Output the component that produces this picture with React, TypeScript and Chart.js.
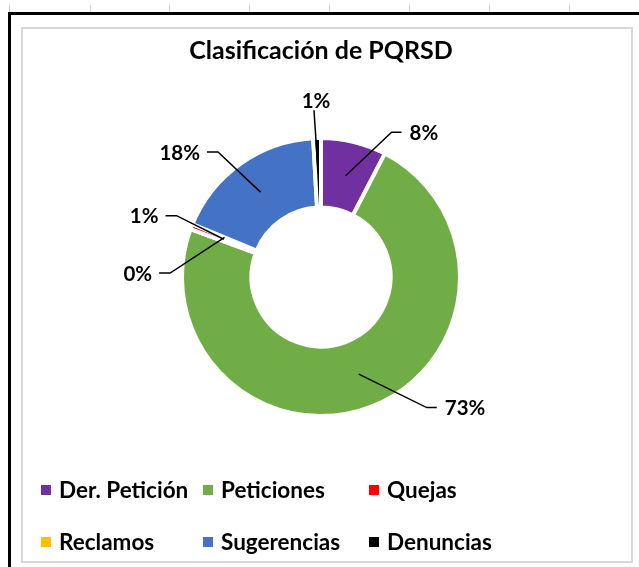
import React, { useEffect, useRef } from "react";
import { Chart, registerables } from "chart.js";

Chart.register(...registerables);

// ---- data ----
const categories = ["Der. Petición", "Peticiones", "Quejas", "Reclamos", "Sugerencias", "Denuncias"];
const shares = [7.6, 73.0, 0.6, 0.0, 17.9, 0.9];
const colors = ["#7030A0", "#70AD47", "#FF0000", "#FFC000", "#4472C4", "#000000"];
const titleText = "Clasificación de PQRSD";

// ---- label placement (style): elbow angle (deg clockwise from top), distance (x outer radius), side ----
const labelAngles = [26, 141, 293, 271.5, 320.5, 357.6];
const labelDistances = [1.158, 1.209, 1.129, 1.086, 1.165, 1.201];
const labelSides = ["right", "right", "left", "left", "left", "top"];

// ---- layout (style) ----
const FONT = "Lato, 'Noto Sans', sans-serif";
const gridTickX = [9, 90, 169, 249, 329, 409, 489, 569];
const legendColsX = [41, 203, 369];
const legendRowsY = [490, 542];

const decorPlugin = {
  id: "pqrsdDecor",
  beforeDraw(chart: any) {
    const ctx = chart.ctx as CanvasRenderingContext2D;
    const W = chart.width;
    const H = chart.height;
    ctx.save();
    ctx.fillStyle = "#ffffff";
    ctx.fillRect(0, 0, W, H);
    ctx.strokeStyle = "#d0d0d0";
    ctx.lineWidth = 1;
    for (const x of gridTickX) {
      ctx.beginPath();
      ctx.moveTo(x + 0.5, 5);
      ctx.lineTo(x + 0.5, 12);
      ctx.stroke();
    }
    ctx.fillStyle = "#000000";
    ctx.fillRect(8, 12, W - 8, 3);
    ctx.fillRect(8, 12, 3, H - 12);
    ctx.strokeStyle = "#d9d9d9";
    ctx.lineWidth = 2;
    ctx.strokeRect(22, 28, 610, 534);
    // title
    ctx.fillStyle = "#000000";
    ctx.font = `bold 25px ${FONT}`;
    ctx.textAlign = "center";
    ctx.textBaseline = "alphabetic";
    ctx.fillText(titleText, 321, 59);
    ctx.restore();
  },
  afterDatasetsDraw(chart: any) {
    const ctx = chart.ctx as CanvasRenderingContext2D;
    const meta = chart.getDatasetMeta(0);
    const values: number[] = chart.data.datasets[0].data;
    const total = values.reduce((a, b) => a + b, 0);
    ctx.save();
    ctx.strokeStyle = "#000000";
    ctx.fillStyle = "#000000";
    ctx.lineWidth = 1.5;
    ctx.font = `bold 20.5px ${FONT}`;
    meta.data.forEach((arc: any, i: number) => {
      const { x, y, startAngle, endAngle, innerRadius, outerRadius } = arc.getProps(
        ["x", "y", "startAngle", "endAngle", "innerRadius", "outerRadius"],
        true
      );
      const mid = (startAngle + endAngle) / 2;
      const rm = (innerRadius + outerRadius) / 2;
      const ax = x + rm * Math.cos(mid);
      const ay = y + rm * Math.sin(mid);
      const a = ((labelAngles[i] - 90) * Math.PI) / 180;
      const d = labelDistances[i] * outerRadius;
      const ex = x + d * Math.cos(a);
      const ey = y + d * Math.sin(a);
      const text = Math.round((values[i] / total) * 100) + "%";
      const side = labelSides[i];
      ctx.beginPath();
      ctx.moveTo(ax, ay);
      ctx.lineTo(ex, ey);
      if (side === "right") ctx.lineTo(ex + 10, ey);
      if (side === "left") ctx.lineTo(ex - 11, ey);
      ctx.stroke();
      if (side === "right") {
        ctx.textAlign = "left";
        ctx.textBaseline = "middle";
        ctx.fillText(text, ex + 18, ey + 1);
      } else if (side === "left") {
        ctx.textAlign = "right";
        ctx.textBaseline = "middle";
        ctx.fillText(text, ex - 18, ey + 1);
      } else {
        ctx.textAlign = "center";
        ctx.textBaseline = "alphabetic";
        ctx.fillText(text, ex + 2, ey - 2);
      }
    });
    ctx.restore();
  },
  afterDraw(chart: any) {
    const ctx = chart.ctx as CanvasRenderingContext2D;
    const labels: string[] = chart.data.labels;
    const bg: string[] = chart.data.datasets[0].backgroundColor;
    ctx.save();
    ctx.font = `bold 22.5px ${FONT}`;
    ctx.textAlign = "left";
    ctx.textBaseline = "middle";
    labels.forEach((lab, i) => {
      const col = i % 3;
      const row = Math.floor(i / 3);
      const x = legendColsX[col];
      const y = legendRowsY[row];
      ctx.fillStyle = bg[i];
      ctx.fillRect(x, y - 5, 10, 10);
      ctx.fillStyle = "#000000";
      ctx.fillText(lab, x + 18, y + 1);
    });
    ctx.restore();
  },
};

export default function App() {
  const canvasRef = useRef<HTMLCanvasElement | null>(null);

  useEffect(() => {
    if (!canvasRef.current) return;
    const chart = new Chart(canvasRef.current, {
      type: "doughnut",
      data: {
        labels: categories,
        datasets: [
          {
            data: shares,
            backgroundColor: colors,
            borderColor: "#ffffff",
            borderWidth: 4,
            hoverOffset: 0,
          },
        ],
      },
      options: {
        responsive: false,
        animation: false,
        cutout: "50%",
        layout: { padding: { left: 180, right: 177, top: 136, bottom: 149 } },
        plugins: {
          legend: { display: false },
          title: { display: false },
          tooltip: { enabled: false },
        },
        events: [],
      },
      plugins: [decorPlugin],
    });
    return () => chart.destroy();
  }, []);

  return (
    <div style={{ position: "absolute", left: 0, top: 0, width: 639, height: 567 }}>
      <canvas ref={canvasRef} width={639} height={567} style={{ display: "block" }} />
    </div>
  );
}
